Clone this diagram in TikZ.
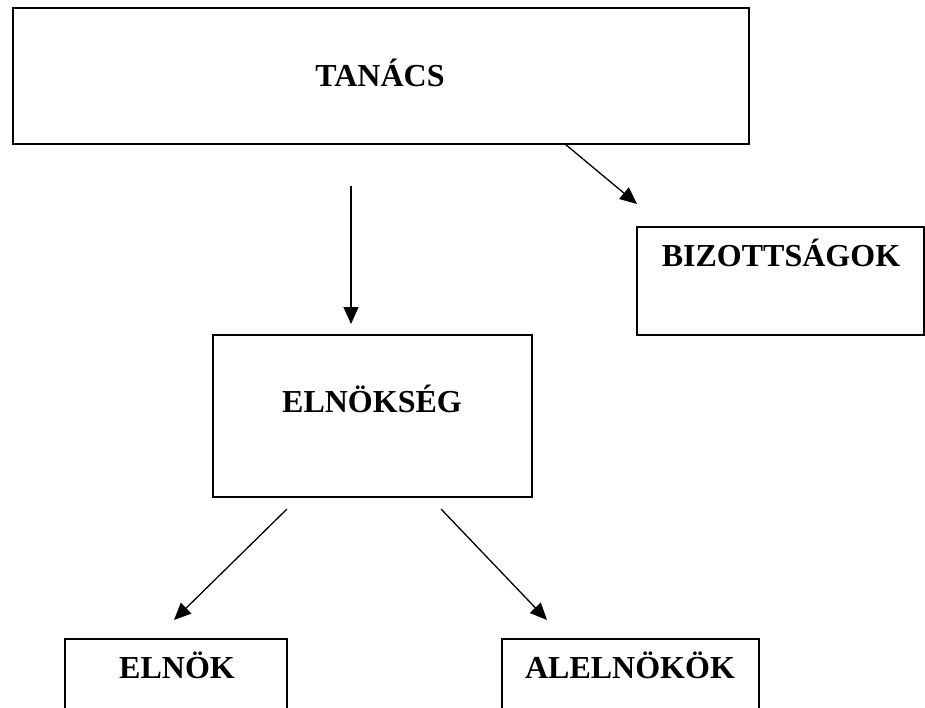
\documentclass[tikz,border=0pt]{standalone}
\usepackage{fontspec}
\setmainfont{Liberation Serif}
\usetikzlibrary{arrows.meta}
\begin{document}
\begin{tikzpicture}[x=1pt,y=-1pt,
  box/.style={draw=black,line width=2pt,fill=white},
  lbl/.style={font=\fontsize{32}{36}\selectfont\bfseries,inner sep=0pt,anchor=base},
  conn/.style={line width=1.3pt,-{Triangle[length=17pt,width=15pt]}}]
\useasboundingbox (0,0) rectangle (925,708);
\clip (0,0) rectangle (925,708);
% boxes
\draw[box] (13,8) rectangle (749,144);
\draw[box] (637,227) rectangle (924,335);
\draw[box] (213,335) rectangle (532,497);
\draw[box] (65,639) rectangle (287,730);
\draw[box] (502,639) rectangle (759,730);
% labels
\node[lbl] (tanacs) at (380,87) {TANÁCS};
\node[lbl] (biz) at (781,267) {BIZOTTSÁGOK};
\node[lbl] (elnokseg) at (372,412) {ELNÖKSÉG};
\node[lbl] (elnok) at (177,678) {ELNÖK};
\node[lbl] (alelnokok) at (630,678) {ALELNÖKÖK};
% connector ends
\coordinate (a1) at (351,186);
\coordinate (a2) at (351,324);
\coordinate (b1) at (565,144);
\coordinate (b2) at (637,204);
\coordinate (c1) at (287,509);
\coordinate (c2) at (174,620);
\coordinate (d1) at (441,509);
\coordinate (d2) at (547,620);
\draw[conn] (a1) -- (a2);
\draw[conn] (b1) -- (b2);
\draw[conn] (c1) -- (c2);
\draw[conn] (d1) -- (d2);
\end{tikzpicture}
\end{document}
